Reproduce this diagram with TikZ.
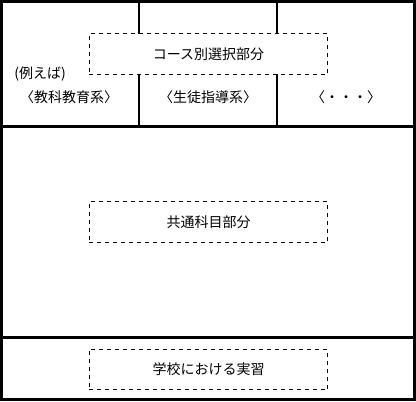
\documentclass[tikz,border=0pt]{standalone}
\usepackage{fontspec}
\newfontfamily\jp{Noto Sans CJK JP}
\begin{document}
\begin{tikzpicture}[x=0.75pt,y=-0.75pt,
        frame/.style={line width=1.6pt},
        part/.style={draw,dashed,line width=0.6pt,minimum width=179pt,minimum height=30.5pt},
        every node/.style={font=\jp\fontsize{10.5}{12}\selectfont,inner sep=0pt}]
    \useasboundingbox (0,0) rectangle (416,401);
    \draw[frame] (1.5,1.5) rectangle (414.5,399.5);
    \coordinate (t1) at (139,0);
    \coordinate (t2) at (277,0);
    \coordinate (l1) at (0,126.5);
    \coordinate (r1) at (416,126.5);
    \coordinate (l2) at (0,337.5);
    \coordinate (r2) at (416,337.5);
    \draw[frame] (l1) -- (r1);
    \draw[frame] (l2) -- (r2);
    \draw[frame] (t1) -- (t1 |- l1);
    \draw[frame] (t2) -- (t2 |- l1);
    \node[part,fill=white] (course) at (208.5,54) {コース別選択部分};
    \node (eg) at (40,74) {(例えば)};
    \node (kyoka) at (69,97) {〈教科教育系〉};
    \node (seito) at (208,97) {〈生徒指導系〉};
    \node (etc) at (346,97) {〈・・・〉};
    \node[part] (common) at (208.5,222) {共通科目部分};
    \node[part] (jisshu) at (208.5,369.5) {学校における実習};
\end{tikzpicture}
\end{document}
